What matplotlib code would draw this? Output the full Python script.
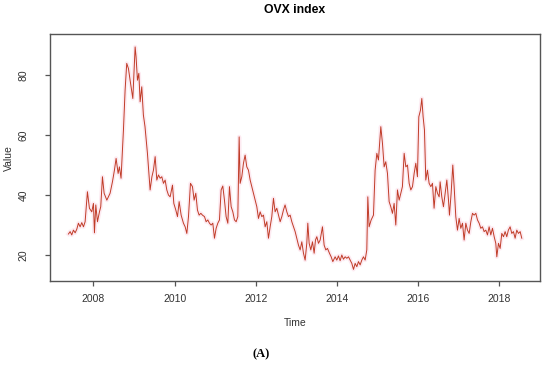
import matplotlib
matplotlib.use('Agg')
from matplotlib import pyplot as plt

# OVX weekly-ish values (decimal year, index level)
time = [2007.384, 2007.426, 2007.466, 2007.507, 2007.549, 2007.590, 2007.630, 2007.672,
        2007.713, 2007.754, 2007.795, 2007.852, 2007.901, 2007.959, 2008.000, 2008.025,
        2008.058, 2008.099, 2008.148, 2008.180, 2008.222, 2008.263, 2008.330, 2008.410,
        2008.468, 2008.517, 2008.558, 2008.608, 2008.640, 2008.680, 2008.739, 2008.780,
        2008.820, 2008.862, 2008.903, 2008.970, 2009.027, 2009.050, 2009.084, 2009.118,
        2009.150, 2009.190, 2009.230, 2009.270, 2009.330, 2009.396, 2009.440, 2009.478,
        2009.520,
        2009.561, 2009.602, 2009.643, 2009.684, 2009.725, 2009.766, 2009.807, 2009.848,
        2009.889, 2009.947, 2009.980, 2010.029, 2010.070, 2010.111, 2010.160, 2010.217,
        2010.259, 2010.300, 2010.341, 2010.390, 2010.439, 2010.480, 2010.521, 2010.562,
        2010.603, 2010.645, 2010.685, 2010.735, 2010.776, 2010.817, 2010.858, 2010.899,
        2010.940, 2010.981, 2011.022, 2011.063, 2011.104, 2011.145, 2011.186, 2011.227,
        2011.268, 2011.310, 2011.350, 2011.392, 2011.433, 2011.474, 2011.515, 2011.556,
        2011.589, 2011.613, 2011.654, 2011.695, 2011.736, 2011.777, 2011.818,
        2011.860, 2011.900, 2011.942, 2011.983, 2012.024, 2012.065, 2012.106, 2012.147,
        2012.188, 2012.229, 2012.270, 2012.311, 2012.352, 2012.393, 2012.434, 2012.475,
        2012.516, 2012.557, 2012.599, 2012.640, 2012.680, 2012.720, 2012.763, 2012.804,
        2012.845, 2012.886, 2012.927, 2012.968, 2013.009, 2013.050, 2013.091, 2013.132,
        2013.173, 2013.214, 2013.255, 2013.280, 2013.313, 2013.354, 2013.395, 2013.436,
        2013.469, 2013.502, 2013.543, 2013.584, 2013.641, 2013.682, 2013.723, 2013.764,
        2013.813, 2013.855, 2013.896, 2013.953, 2013.994, 2014.035, 2014.076, 2014.117,
        2014.158,
        2014.200, 2014.241, 2014.282, 2014.323, 2014.364, 2014.405, 2014.446, 2014.487,
        2014.528, 2014.569, 2014.610, 2014.651, 2014.692, 2014.733, 2014.758, 2014.790,
        2014.840, 2014.897, 2014.938, 2014.980, 2015.020, 2015.078, 2015.119, 2015.160,
        2015.200, 2015.242, 2015.283, 2015.324, 2015.365, 2015.406, 2015.447, 2015.488,
        2015.530, 2015.570, 2015.610, 2015.653, 2015.694, 2015.735, 2015.776, 2015.817,
        2015.858, 2015.899, 2015.940, 2015.980, 2016.014, 2016.055, 2016.088, 2016.120,
        2016.153, 2016.186, 2016.227, 2016.268, 2016.310, 2016.350, 2016.390, 2016.433,
        2016.474, 2016.515,
        2016.539, 2016.580, 2016.621, 2016.662, 2016.704, 2016.745, 2016.769, 2016.810,
        2016.851, 2016.884, 2016.925, 2016.966, 2017.007, 2017.048, 2017.090, 2017.130,
        2017.172, 2017.213, 2017.254, 2017.295, 2017.336, 2017.377, 2017.418, 2017.459,
        2017.500, 2017.541, 2017.582, 2017.623, 2017.664, 2017.705, 2017.746, 2017.787,
        2017.828, 2017.870, 2017.910, 2017.935, 2017.976, 2018.017, 2018.058, 2018.100,
        2018.140, 2018.180, 2018.220, 2018.263, 2018.304, 2018.345, 2018.386, 2018.427,
        2018.468, 2018.510, 2018.550]

ovx = [27.0, 27.8, 26.7, 28.3, 27.4, 28.6, 30.6, 29.4,
       30.8, 29.4, 31.1, 41.1, 35.6, 34.4, 37.2, 27.4,
       36.7, 31.1, 34.4, 36.1, 46.1, 40.6, 38.3, 40.6,
       44.4, 48.3, 52.2, 47.2, 49.4, 45.6, 61.7, 75.0,
       83.9, 82.2, 78.3, 72.2, 89.4, 86.1, 78.3, 80.6,
       71.1, 76.1, 66.7, 62.8, 53.9, 41.7, 46.1, 48.3,
       52.8,
       45.0, 46.7, 45.6, 46.1, 43.9, 45.0, 41.7, 40.0,
       39.4, 43.3, 37.2, 35.0, 32.8, 37.8, 33.3, 30.6,
       29.4, 27.2, 32.8, 43.9, 42.8, 38.3, 40.6, 35.0,
       33.3, 33.9, 33.3, 32.8, 31.1, 31.7, 30.6, 30.0,
       30.6, 25.6, 28.9, 30.6, 31.7, 41.7, 43.0, 38.3,
       32.8, 30.6, 42.8, 36.1, 34.4, 31.7, 31.1, 32.8,
       59.4, 43.9, 46.1, 50.6, 53.3, 49.4, 48.3,
       45.0, 42.8, 40.6, 38.3, 36.1, 32.2, 34.4, 32.8,
       33.3, 29.4, 31.1, 25.6, 29.4, 32.8, 38.9, 34.4,
       35.6, 33.3, 31.1, 32.8, 35.0, 36.7, 34.4, 32.8,
       33.3, 31.1, 29.4, 27.8, 25.6, 23.3, 21.7, 24.4,
       20.6, 18.3, 23.9, 30.6, 23.9, 21.7, 24.4, 20.6,
       25.0, 26.1, 23.9, 25.0, 29.4, 23.3, 21.7, 22.2,
       20.6, 19.4, 17.8, 19.4, 18.3, 19.7, 18.1, 20.0,
       18.6,
       19.4, 18.9, 19.4, 18.3, 17.2, 15.2, 17.2, 16.1,
       17.8, 16.7, 18.3, 19.4, 18.3, 21.7, 39.4, 29.4,
       31.7, 33.3, 48.3, 53.9, 51.7, 62.8, 57.2, 49.4,
       51.1, 47.2, 37.8, 36.1, 33.9, 37.2, 30.0, 41.7,
       38.3, 40.6, 42.8, 53.9, 49.4, 50.0, 43.9, 41.7,
       42.8, 47.2, 50.6, 46.1, 66.1, 68.3, 72.2, 66.1,
       61.7, 45.0, 48.3, 43.9, 42.8, 43.9, 35.6, 42.8,
       40.6, 39.4,
       44.4, 39.4, 36.1, 40.6, 45.0, 38.3, 33.3, 40.6,
       50.0, 42.8, 32.8, 28.3, 32.2, 28.9, 30.6, 25.0,
       30.6, 28.3, 27.2, 31.1, 33.9, 33.3, 33.9, 31.7,
       30.6, 28.9, 29.4, 27.8, 28.3, 26.7, 29.4, 26.7,
       28.9, 26.1, 23.9, 19.4, 23.9, 22.2, 27.2, 26.1,
       27.8, 26.1, 28.3, 29.4, 27.2, 27.8, 25.6, 28.3,
       27.2, 27.8, 25.6]

x_ticks = [2008, 2010, 2012, 2014, 2016, 2018]
y_ticks = [20, 40, 60, 80]

plt.rcParams['font.family'] = ['Liberation Sans', 'DejaVu Sans']

fig = plt.figure(figsize=(5.5, 3.66), dpi=100)
ax = fig.add_axes([0.0909, 0.232, 0.891, 0.675])

# faint pink halo like the jpeg reference, then the red series
ax.plot(time, ovx, color='#fdeaf1', linewidth=3.0, solid_joinstyle='round', zorder=1)
ax.plot(time, ovx, color='#c03c28', linewidth=0.7, zorder=2)

ax.set_xlim(2006.93, 2019.0)
ax.set_ylim(11.3, 93.7)
ax.set_xticks(x_ticks)
ax.set_yticks(y_ticks)
ax.set_yticklabels([str(v) for v in y_ticks], rotation=90, va='center')

for s in ax.spines.values():
    s.set_color('#555555')
    s.set_linewidth(1.0)
ax.tick_params(axis='both', direction='out', length=3.6, width=0.9, color='#555555',
               labelsize=7.5, labelcolor='#333333')
ax.tick_params(axis='x', pad=6)
ax.tick_params(axis='y', pad=12)

ax.set_title('OVX index', fontsize=8.8, fontweight='bold', pad=15)
ax.set_xlabel('Time', fontsize=7.5, color='#333333', labelpad=10)
ax.set_ylabel('Value', fontsize=7.5, color='#333333', labelpad=3)

fig.text(0.475, 0.033, '(A)', fontsize=9, fontweight='bold',
         family=['Liberation Serif', 'DejaVu Serif'], ha='center', va='center')

fig.savefig('out.png', dpi=100)
